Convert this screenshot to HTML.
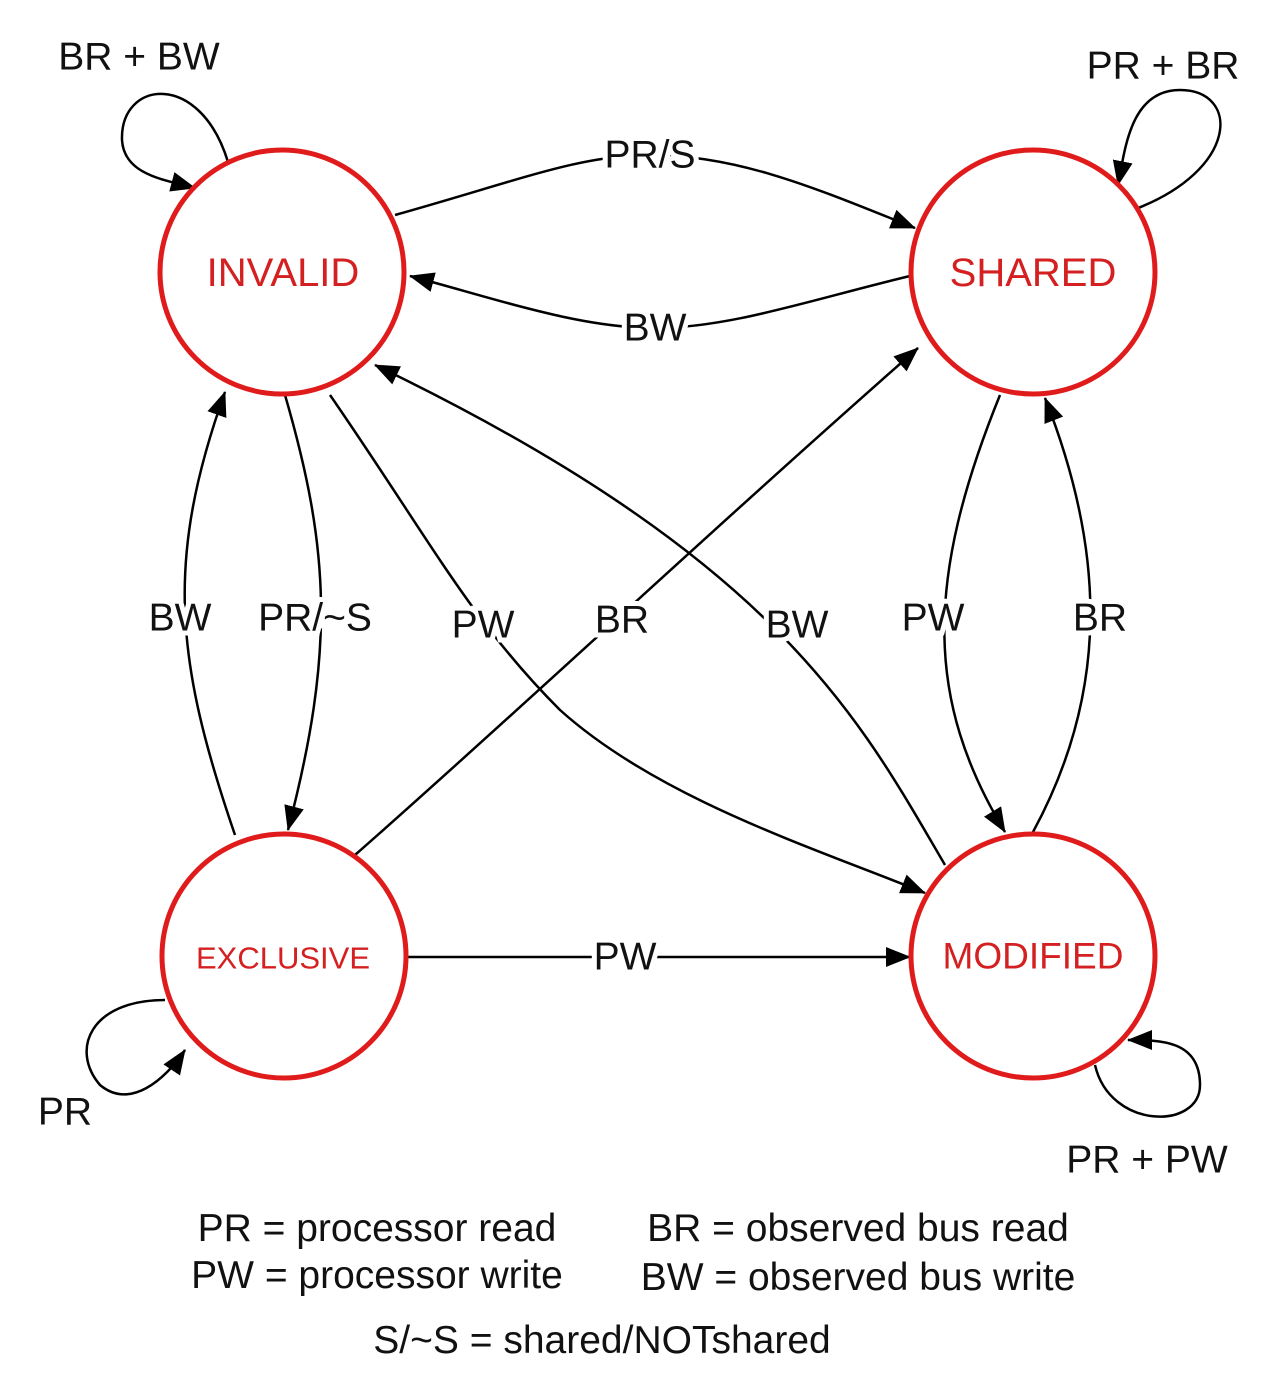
<!DOCTYPE html>
<html><head><meta charset="utf-8"><style>
html,body{margin:0;padding:0;background:#fff;}
svg{display:block;}
text{font-family:"Liberation Sans",Arial,sans-serif;}
.l{font-size:39px;fill:#111;text-anchor:middle;dominant-baseline:central;paint-order:stroke;stroke:#fff;stroke-width:10px;}
.s{font-size:40px;fill:#d42020;text-anchor:middle;dominant-baseline:central;}
.g{font-size:39px;fill:#111;text-anchor:middle;}
path.e{fill:none;stroke:#000;stroke-width:2.5;marker-end:url(#a);}
circle{fill:#fff;stroke:#e01b1b;stroke-width:5;}
</style></head><body>
<svg width="1280" height="1399" viewBox="0 0 1280 1399">
<defs><marker id="a" markerUnits="userSpaceOnUse" markerWidth="26" markerHeight="22" refX="24" refY="10" orient="auto"><path d="M0,0 L25,10 L0,20 Z" fill="#000"/></marker></defs>

<path class="e" d="M395,215 C520,180 580,155 650,155 C740,155 820,190 915,228"/>
<path class="e" d="M910,276 C810,300 730,328 655,328 C580,328 500,300 410,276"/>
<path class="e" d="M228,162 C200,70 120,80 122,140 C124,175 165,180 195,188"/>
<path class="e" d="M1133,210 C1240,170 1240,90 1180,90 C1130,90 1125,150 1118,185"/>
<path class="e" d="M235,835 C175,660 165,560 225,392"/>
<path class="e" d="M285,395 C330,550 335,650 288,830"/>
<path class="e" d="M330,395 C430,540 470,620 560,710 C660,800 820,850 925,893"/>
<path class="e" d="M355,855 C520,710 700,540 918,348"/>
<path class="e" d="M945,865 C860,720 780,560 375,365"/>
<path class="e" d="M1000,395 C925,580 925,700 1005,832"/>
<path class="e" d="M1033,832 C1110,690 1105,550 1045,398"/>
<path class="e" d="M408,957 L910,957"/>
<path class="e" d="M165,1000 C90,1000 70,1050 100,1085 C130,1110 165,1080 185,1050"/>
<path class="e" d="M1095,1065 C1110,1130 1200,1130 1200,1085 C1200,1040 1160,1040 1128,1040"/>

<circle cx="282" cy="272" r="122"/>
<circle cx="1033" cy="272" r="122"/>
<circle cx="284" cy="956" r="122"/>
<circle cx="1033" cy="956" r="122"/>
<text class="s" x="283" y="273">INVALID</text>
<text class="s" x="1033" y="273">SHARED</text>
<text class="s" x="283" y="958" style="font-size:31px">EXCLUSIVE</text>
<text class="s" x="1033" y="956" style="font-size:37px">MODIFIED</text>

<text class="l" x="650" y="155">PR/S</text>
<text class="l" x="655" y="328">BW</text>
<text class="l" x="139" y="57">BR + BW</text>
<text class="l" x="1163" y="66">PR + BR</text>
<text class="l" x="180" y="618">BW</text>
<text class="l" x="315" y="618">PR/~S</text>
<text class="l" x="483" y="625">PW</text>
<text class="l" x="622" y="620">BR</text>
<text class="l" x="797" y="625">BW</text>
<text class="l" x="933" y="618">PW</text>
<text class="l" x="1100" y="618">BR</text>
<text class="l" x="625" y="957">PW</text>
<text class="l" x="65" y="1112">PR</text>
<text class="l" x="1147" y="1160">PR + PW</text>

<text class="g" x="377" y="1241">PR = processor read</text>
<text class="g" x="377" y="1288">PW = processor write</text>
<text class="g" x="858" y="1241">BR = observed bus read</text>
<text class="g" x="858" y="1290">BW = observed bus write</text>
<text class="g" x="602" y="1353">S/~S = shared/NOTshared</text>
</svg>
</body></html>
